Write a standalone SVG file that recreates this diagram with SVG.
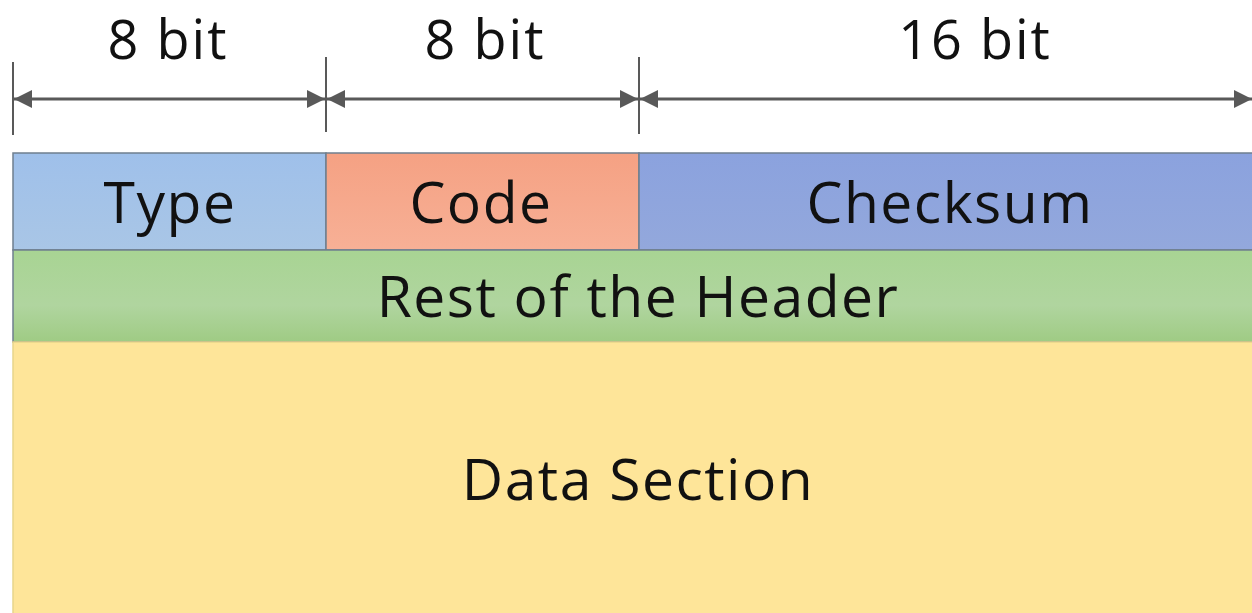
<svg xmlns="http://www.w3.org/2000/svg" width="1252" height="613" viewBox="0 0 1252 613">
<style>
.t{font-family:"Open Sans","Liberation Sans",sans-serif;font-size:57px;letter-spacing:1.5px;fill:#111;text-anchor:middle}
.h{font-size:54px;letter-spacing:2px}
.dim{stroke:#595959;stroke-width:3;fill:none}
.tick{stroke:#595959;stroke-width:2}
.box{stroke:#6f7f8f;stroke-width:1.5}
</style>
<defs>
<marker id="ah" viewBox="0 0 10 10" refX="10" refY="5" markerWidth="7" markerHeight="6" markerUnits="strokeWidth" orient="auto-start-reverse">
<path d="M0,0 L10,5 L0,10 z" fill="#595959"/>
</marker>
<linearGradient id="gb" x1="0" y1="0" x2="0" y2="1"><stop offset="0" stop-color="#9fc0ea"/><stop offset="1" stop-color="#a9c6e6"/></linearGradient>
<linearGradient id="go" x1="0" y1="0" x2="0" y2="1"><stop offset="0" stop-color="#f5a183"/><stop offset="1" stop-color="#f7b096"/></linearGradient>
<linearGradient id="gc" x1="0" y1="0" x2="0" y2="1"><stop offset="0" stop-color="#8ba2de"/><stop offset="1" stop-color="#93a8dc"/></linearGradient>
<linearGradient id="gg" x1="0" y1="0" x2="0" y2="1"><stop offset="0" stop-color="#a8d493"/><stop offset="0.6" stop-color="#b0d59f"/><stop offset="1" stop-color="#9fcb84"/></linearGradient>
</defs>
<rect width="1252" height="613" fill="#fff"/>
<g id="connectors">
<line class="tick" x1="13" y1="62" x2="13" y2="135"/>
<line class="tick" x1="326" y1="57" x2="326" y2="132"/>
<line class="tick" x1="639" y1="57" x2="639" y2="134"/>
<line class="dim" x1="14" y1="99" x2="325" y2="99" marker-start="url(#ah)" marker-end="url(#ah)"/>
<line class="dim" x1="327" y1="99" x2="638" y2="99" marker-start="url(#ah)" marker-end="url(#ah)"/>
<line class="dim" x1="640" y1="99" x2="1252" y2="99" marker-start="url(#ah)" marker-end="url(#ah)"/>
</g>
<g id="dim-labels">
<text class="t h" x="168" y="59">8 bit</text>
<text class="t h" x="485" y="59">8 bit</text>
<text class="t h" x="975" y="59">16 bit</text>
</g>
<g id="type"><rect class="box" x="13" y="153" width="313" height="97" fill="url(#gb)"/><text class="t" x="170" y="223">Type</text></g>
<g id="code"><rect class="box" x="326" y="153" width="313" height="97" fill="url(#go)"/><text class="t" x="481" y="223">Code</text></g>
<g id="checksum"><rect class="box" x="639" y="153" width="620" height="97" fill="url(#gc)"/><text class="t" x="950" y="223">Checksum</text></g>
<g id="rest"><rect class="box" x="13" y="250" width="1246" height="92" fill="url(#gg)"/><text class="t" x="638" y="317">Rest of the Header</text></g>
<g id="data"><rect x="13" y="342" width="1246" height="280" fill="#fee599" stroke="#e8d58a" stroke-width="1.5"/><text class="t" x="638" y="500">Data Section</text></g>
</svg>
